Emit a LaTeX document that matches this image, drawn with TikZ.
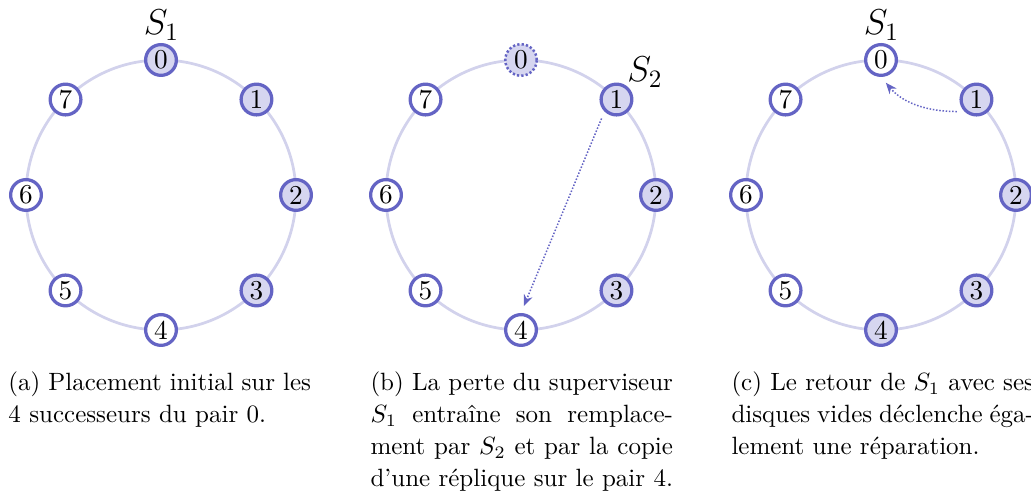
\documentclass[tikz,border=0pt]{standalone}
\usepackage{fontspec}
\usetikzlibrary{arrows.meta}
\definecolor{nodeblue}{RGB}{100,100,196}
\definecolor{nodefill}{RGB}{214,214,240}
\definecolor{ringcol}{RGB}{210,210,236}
\begin{document}
\begin{tikzpicture}[x=0.4pt,y=0.4pt,
  disk/.style={circle, draw=nodeblue, line width=1.3pt, minimum size=12.3pt, inner sep=0pt, fill=white, font=\fontsize{10.9}{13}\selectfont},
  diskfull/.style={disk, fill=nodefill},
  diskempty/.style={disk, fill=white},
  diskgone/.style={disk, fill=nodefill, line width=1pt, minimum size=12.6pt, dash pattern=on 0.9pt off 0.85pt},
  ring/.style={draw=ringcol, line width=1.1pt},
  repl/.style={draw=nodeblue, line width=0.6pt, dash pattern=on 0.6pt off 0.7pt, -{Stealth[length=4.5pt,width=3.6pt]}, shorten <=3pt, shorten >=3pt},
  slabel/.style={font=\Large, inner sep=0pt, anchor=base},
  capline/.style={font=\fontsize{10}{12.8}\selectfont, inner sep=0pt, anchor=base west}]
\useasboundingbox (0,0) rectangle (1031,504);
% ring centres
\coordinate (ca) at (161,309);
\coordinate (cb) at (521,309);
\coordinate (cc) at (881,309);
\draw[ring] (ca) circle[radius=54pt];
\draw[ring] (cb) circle[radius=54pt];
\draw[ring] (cc) circle[radius=54pt];
% ring (a)
\foreach \k/\s in {0/diskfull,1/diskfull,2/diskfull,3/diskfull,4/diskempty,5/diskempty,6/diskempty,7/diskempty}
  \node[\s] (a\k) at ({161+135*sin(45*\k)},{309+135*cos(45*\k)}) {\k};
% ring (b)
\foreach \k/\s in {0/diskgone,1/diskfull,2/diskfull,3/diskfull,4/diskempty,5/diskempty,6/diskempty,7/diskempty}
  \node[\s] (b\k) at ({521+135*sin(45*\k)},{309+135*cos(45*\k)}) {\k};
% ring (c)
\foreach \k/\s in {0/diskempty,1/diskfull,2/diskfull,3/diskfull,4/diskfull,5/diskempty,6/diskempty,7/diskempty}
  \node[\s] (c\k) at ({881+135*sin(45*\k)},{309+135*cos(45*\k)}) {\k};
% labels
\node[slabel] (s1a) at (161.5,469) {$S_1$};
\node[slabel] (s2b) at (645,422) {$S_2$};
\node[slabel] (s1c) at (881.5,469) {$S_1$};
% repairs
\draw[repl] (b1.south west) -- (b4.north);
\draw[repl] (c1.south west) to[out=180,in=-50] (c0.south);
% captions
\node[capline] (capa1) at (8,113) {\makebox[121pt][s]{(a) Placement initial sur les}};
\node[capline] (capa2) at (8,81) {4 successeurs du pair 0.};
\node[capline] (capb1) at (370,113) {\makebox[121pt][s]{(b) La perte du superviseur}};
\node[capline] (capb2) at (370,81) {\makebox[121pt][s]{$S_1$ entraîne son remplace-}};
\node[capline] (capb3) at (370,49) {\makebox[121pt][s]{ment par $S_2$ et par la copie}};
\node[capline] (capb4) at (370,17) {d'une réplique sur le pair 4.};
\node[capline] (capc1) at (731,113) {\makebox[121pt][s]{(c) Le retour de $S_1$ avec ses}};
\node[capline] (capc2) at (731,81) {\makebox[121pt][s]{disques vides déclenche éga-}};
\node[capline] (capc3) at (731,49) {lement une réparation.};
\end{tikzpicture}
\end{document}
